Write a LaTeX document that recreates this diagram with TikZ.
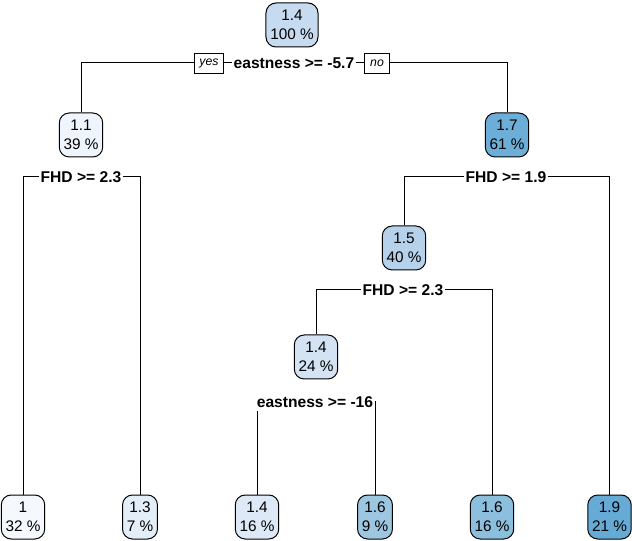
\documentclass[tikz,border=0pt]{standalone}
\usepackage{fontspec}
\setmainfont{Liberation Sans}
\usetikzlibrary{backgrounds}
\definecolor{c10}{HTML}{F5F9FE}
\definecolor{c11}{HTML}{EFF5FC}
\definecolor{c13}{HTML}{E4EEF9}
\definecolor{c14a}{HTML}{DDE9F6}
\definecolor{c14b}{HTML}{D3E3F3}
\definecolor{c14r}{HTML}{C6DBEF}
\definecolor{c15}{HTML}{B5D2EA}
\definecolor{c16a}{HTML}{9DC6E1}
\definecolor{c16b}{HTML}{8CBEDD}
\definecolor{c17}{HTML}{6CAED7}
\definecolor{c19}{HTML}{66AAD6}
\tikzset{
  treenode/.style={draw=black, line width=0.75pt, rounded corners=7.5pt, align=center,
    inner xsep=3.2pt, inner ysep=0pt, minimum height=33pt,
    font=\fontsize{11.5}{14.25}\selectfont},
  splitlab/.style={fill=white, inner xsep=1.5pt, inner ysep=2.7pt,
    font=\fontsize{11.7}{13}\selectfont\bfseries},
  yesno/.style={draw=black, fill=white, line width=0.6pt, inner xsep=4pt, inner ysep=0pt,
    minimum height=15pt, font=\fontsize{9.2}{10}\selectfont\itshape},
  conn/.style={line width=0.75pt}
}
\begin{document}
\begin{tikzpicture}[x=0.75pt,y=-0.75pt]
\useasboundingbox (0,0) rectangle (632,541);
% internal nodes
\node[treenode, fill=c14r] (root) at (292,25) {1.4\\100 \%};
\node[treenode, fill=c11] (n11) at (81,135) {1.1\\39 \%};
\node[treenode, fill=c17] (n17) at (507,135) {1.7\\61 \%};
\node[treenode, fill=c15] (n15) at (404,248) {1.5\\40 \%};
\node[treenode, fill=c14b] (n14) at (316,357) {1.4\\24 \%};
% leaves
\node[treenode, fill=c10] (l1) at (23,517) {1\\32 \%};
\node[treenode, fill=c13] (l13) at (140,517) {1.3\\7 \%};
\node[treenode, fill=c14a] (l14) at (257,517) {1.4\\16 \%};
\node[treenode, fill=c16a] (l16a) at (375,517) {1.6\\9 \%};
\node[treenode, fill=c16b] (l16b) at (492,517) {1.6\\16 \%};
\node[treenode, fill=c19] (l19) at (609.5,517) {1.9\\21 \%};
% split labels
\node[splitlab] (s0) at (294,63) {eastness >= -5.7};
\node[splitlab] (s11) at (81,177) {FHD >= 2.3};
\node[splitlab] (s17) at (506,177) {FHD >= 1.9};
\node[splitlab] (s15) at (403,290) {FHD >= 2.3};
\node[splitlab] (s14) at (315,402) {eastness >= -16};
\node[yesno] (yes) at (209,63) {yes};
\node[yesno] (no) at (377,63) {no};
% connectors
\begin{scope}[on background layer]
\draw[conn] (s0.center) -| (n11.north);
\draw[conn] (s0.center) -| (n17.north);
\draw[conn] (s11.center) -| (l1.north);
\draw[conn] (s11.center) -| (l13.north);
\draw[conn] (s17.center) -| (n15.north);
\draw[conn] (s17.center) -| (l19.north);
\draw[conn] (s15.center) -| (n14.north);
\draw[conn] (s15.center) -| (l16b.north);
\draw[conn] (s14.center) -| (l14.north);
\draw[conn] (s14.center) -| (l16a.north);
\end{scope}
\end{tikzpicture}
\end{document}
